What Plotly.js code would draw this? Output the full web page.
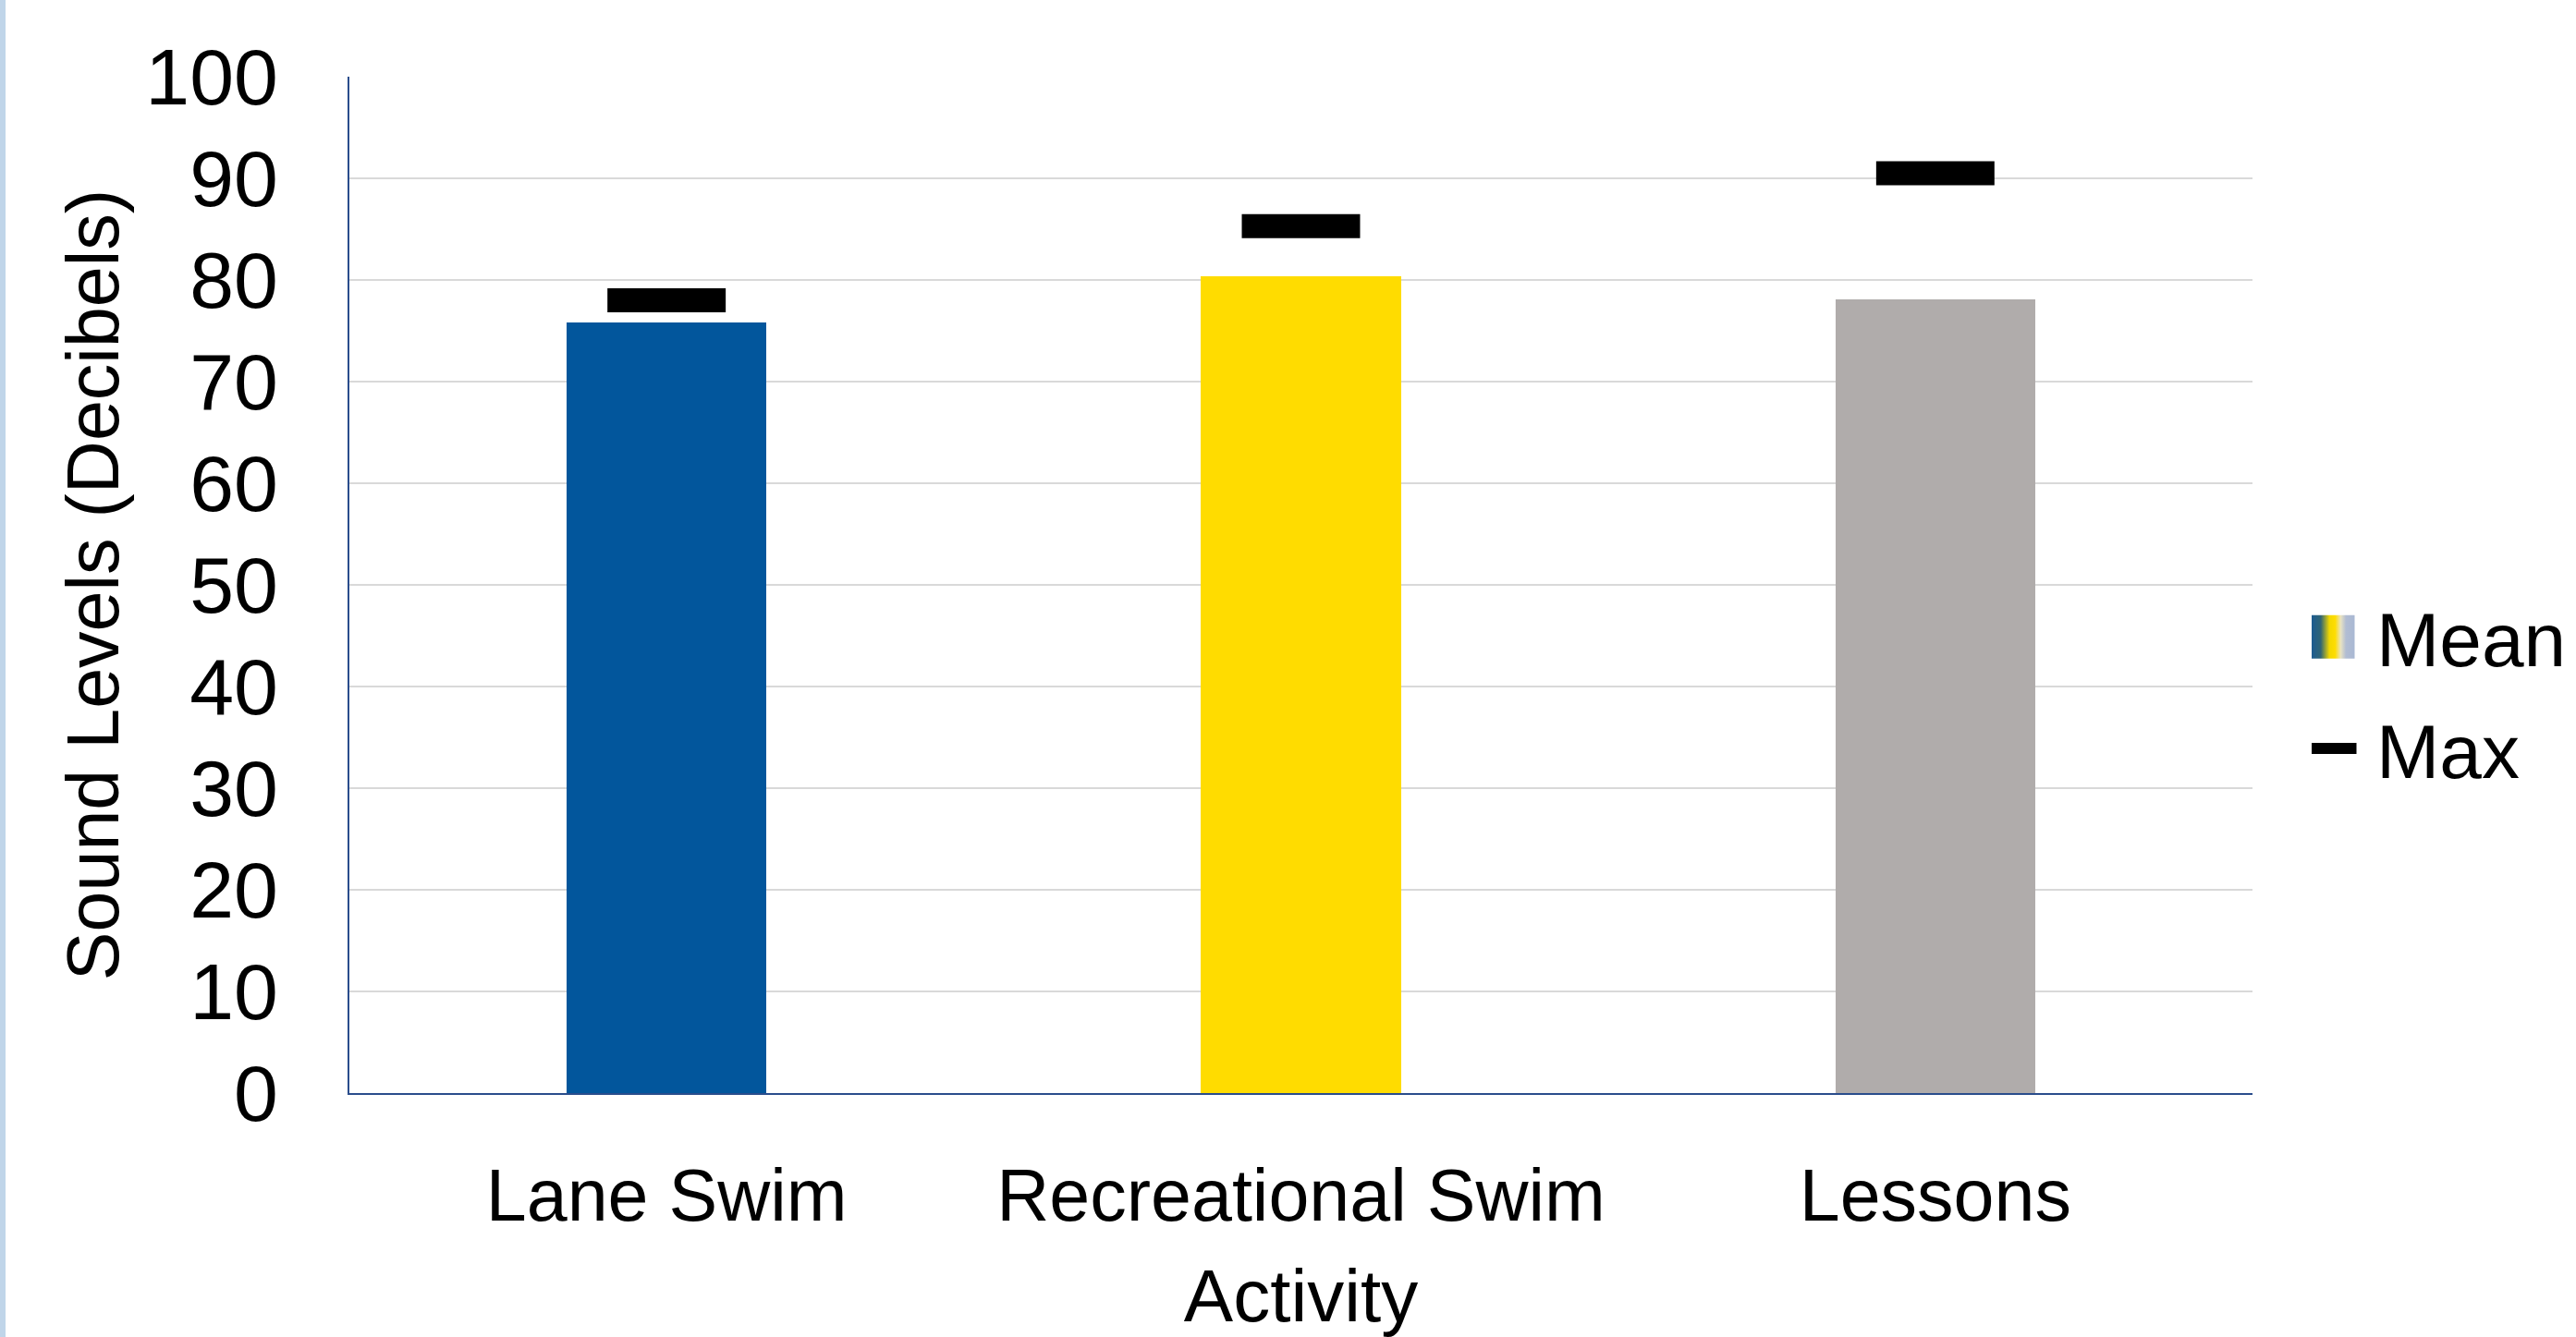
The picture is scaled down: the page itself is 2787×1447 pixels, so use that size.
<!DOCTYPE html>
<html>
<head>
<meta charset="utf-8">
<script src="https://cdn.plot.ly/plotly-3.0.1.min.js"></script>
<style>
html, body { margin: 0; padding: 0; background: #ffffff; overflow: hidden; }
#chart { width: 2787px; height: 1447px; }
#edge { position: absolute; left: 0; top: 0; width: 6px; height: 1447px; background: #c0d5e9; z-index: 10; }
</style>
</head>
<body>
<div id="chart"></div>
<div id="edge"></div>
<script>
// ---- data ----
const categories = ['Lane Swim', 'Recreational Swim', 'Lessons'];
const meanValues = [75.8, 80.4, 78.1];
const maxValues = [78.0, 85.3, 90.5];
const barColors = ['#02569c', '#ffdc00', '#b0acab'];
const yTickValues = [0, 10, 20, 30, 40, 50, 60, 70, 80, 90, 100];
const yTickLabels = ['0', '10', '20', '30', '40', '50', '60', '70', '80', '90', '100'];
const seriesNames = ['Mean', 'Max'];
const xTitle = 'Activity';
const yTitle = 'Sound Levels (Decibels)';

const FONT = 'Liberation Sans, Arial, sans-serif';
const AXIS_BLUE = '#2a4d8c';

const traces = [
  {
    type: 'bar',
    name: seriesNames[0],
    legendgroup: 'g1',
    x: categories,
    y: meanValues,
    width: 0.315,
    marker: { color: barColors, line: { width: 0 } },
    hoverinfo: 'x+y'
  },
  {
    type: 'scatter',
    mode: 'markers',
    name: seriesNames[1],
    legendgroup: 'g2',
    x: categories,
    y: maxValues,
    marker: {
      symbol: 'line-ew',
      size: 91.4,
      color: '#000000',
      line: { color: '#000000', width: 26 }
    },
    hoverinfo: 'x+y'
  }
];

const layout = {
  width: 2787,
  height: 1447,
  paper_bgcolor: '#ffffff',
  plot_bgcolor: '#ffffff',
  font: { family: FONT, color: '#000000', size: 80 },
  margin: { l: 378, r: 350, t: 83, b: 264, pad: 0 },
  showlegend: true,
  legend: {
    xref: 'container',
    yref: 'container',
    x: 2501 / 2787,
    xanchor: 'left',
    y: 1 - 750 / 1447,
    yanchor: 'middle',
    font: { family: FONT, size: 82, color: '#000000' },
    itemwidth: 60,
    tracegroupgap: 11,
    bgcolor: 'rgba(0,0,0,0)',
    borderwidth: 0,
    traceorder: 'grouped'
  },
  bargap: 0,
  xaxis: {
    type: 'category',
    categoryorder: 'array',
    categoryarray: categories,
    range: [-0.5, 2.5],
    showline: true,
    linecolor: AXIS_BLUE,
    linewidth: 2,
    showgrid: false,
    zeroline: false,
    ticks: '',
    ticklabelstandoff: 41,
    tickfont: { family: FONT, size: 79, color: '#000000' },
    title: { text: xTitle, font: { family: FONT, size: 80, color: '#000000' }, standoff: 38 }
  },
  yaxis: {
    range: [0, 100],
    tickmode: 'array',
    tickvals: yTickValues,
    ticktext: yTickLabels,
    showline: true,
    linecolor: AXIS_BLUE,
    linewidth: 2,
    showgrid: true,
    gridcolor: '#d9d9d9',
    gridwidth: 2,
    zeroline: false,
    ticks: '',
    ticklabelstandoff: 58,
    tickfont: { family: FONT, size: 86, color: '#000000' },
    title: { text: yTitle, font: { family: FONT, size: 79, color: '#000000' }, standoff: 3 }
  }
};

Plotly.newPlot('chart', traces, layout, { staticPlot: true, displayModeBar: false }).then(function () {
  const ns = 'http://www.w3.org/2000/svg';
  const svg = document.querySelector('#chart .main-svg');
  let defs = svg.querySelector('defs');
  if (!defs) { defs = document.createElementNS(ns, 'defs'); svg.insertBefore(defs, svg.firstChild); }
  const lg = document.createElementNS(ns, 'linearGradient');
  lg.setAttribute('id', 'meanGrad');
  lg.setAttribute('x1', '0'); lg.setAttribute('x2', '1');
  lg.setAttribute('y1', '0'); lg.setAttribute('y2', '0');
  const stops = [[0, '#1c5b92'], [0.22, '#2f6475'], [0.42, '#f2d800'], [0.55, '#ffdd00'], [0.68, '#e9e3c2'], [0.8, '#b2bdd3'], [1, '#a9b8d3']];
  stops.forEach(function (s) {
    const st = document.createElementNS(ns, 'stop');
    st.setAttribute('offset', s[0]);
    st.setAttribute('stop-color', s[1]);
    lg.appendChild(st);
  });
  defs.appendChild(lg);

  const items = document.querySelectorAll('#chart .legend .traces');
  if (items.length >= 2) {
    const barPaths = items[0].querySelectorAll('.legendpoints path');
    barPaths.forEach(function (p) {
      p.setAttribute('d', 'M11.5,23.5H-35.5V-23.5H11.5Z');
      p.style.fill = 'url(#meanGrad)';
      p.style.stroke = 'none';
      p.style.strokeWidth = '0';
    });
    const maxPaths = items[1].querySelectorAll('.legendpoints path');
    maxPaths.forEach(function (p) {
      p.setAttribute('d', 'M13.5,0H-37.5');
      p.style.stroke = '#000000';
      p.style.strokeWidth = '12px';
    });
  }
});
</script>
</body>
</html>
